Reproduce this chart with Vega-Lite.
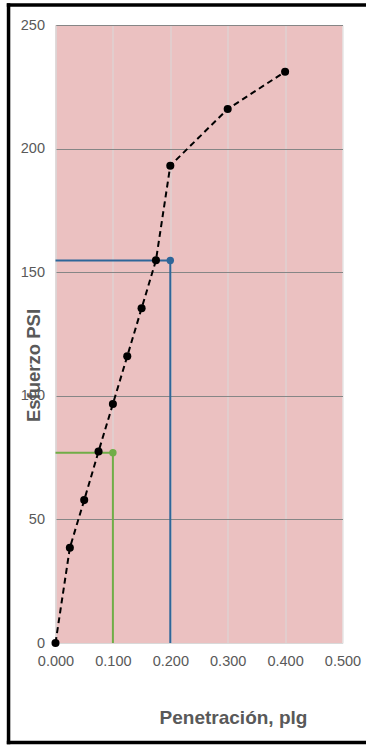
{
  "$schema": "https://vega.github.io/schema/vega-lite/v6.json",
  "width": 287,
  "height": 618,
  "autosize": {"type": "none"},
  "padding": {"left": 55.5, "top": 25, "right": 23.5, "bottom": 102},
  "background": "white",
  "config": {
    "font": "Liberation Sans",
    "view": {"fill": "#EBC1C1", "stroke": null}
  },
  "datasets": {
    "ensayo": [
      {"penetracion": 0.0, "esfuerzo": 0},
      {"penetracion": 0.025, "esfuerzo": 38.5},
      {"penetracion": 0.05, "esfuerzo": 57.8},
      {"penetracion": 0.075, "esfuerzo": 77.5},
      {"penetracion": 0.1, "esfuerzo": 96.7},
      {"penetracion": 0.125, "esfuerzo": 116},
      {"penetracion": 0.15, "esfuerzo": 135.4},
      {"penetracion": 0.175, "esfuerzo": 154.8},
      {"penetracion": 0.2, "esfuerzo": 193.1},
      {"penetracion": 0.3, "esfuerzo": 216},
      {"penetracion": 0.4, "esfuerzo": 231.1}
    ],
    "guias": [
      {"serie": "0.1 plg", "orden": 1, "penetracion": 0.0, "esfuerzo": 77},
      {"serie": "0.1 plg", "orden": 2, "penetracion": 0.1, "esfuerzo": 77},
      {"serie": "0.1 plg", "orden": 3, "penetracion": 0.1, "esfuerzo": 0},
      {"serie": "0.2 plg", "orden": 1, "penetracion": 0.0, "esfuerzo": 154.7},
      {"serie": "0.2 plg", "orden": 2, "penetracion": 0.2, "esfuerzo": 154.7},
      {"serie": "0.2 plg", "orden": 3, "penetracion": 0.2, "esfuerzo": 0}
    ]
  },
  "layer": [
    {
      "data": {"name": "guias"},
      "mark": {"type": "line", "strokeWidth": 2},
      "encoding": {
        "x": {
          "field": "penetracion",
          "type": "quantitative",
          "scale": {"domain": [0, 0.5], "nice": false, "zero": false},
          "axis": {
            "title": "Penetración, plg",
            "values": [0, 0.1, 0.2, 0.3, 0.4, 0.5],
            "format": ".3f",
            "ticks": false,
            "labelFlush": false,
            "labelPadding": 11,
            "labelFontSize": 14.5,
            "labelColor": "#595959",
            "domainColor": "#D9D9D9",
            "gridColor": "#D9D9D9",
            "gridWidth": 1,
            "titleFontSize": 19,
            "titleFontWeight": "bold",
            "titleColor": "#595959",
            "titleX": 177.5,
            "titleY": 74,
            "titleBaseline": "middle",
            "titleAlign": "center"
          }
        },
        "y": {
          "field": "esfuerzo",
          "type": "quantitative",
          "scale": {"domain": [0, 250], "nice": false, "zero": false},
          "axis": {
            "title": "Esfuerzo PSI",
            "values": [0, 50, 100, 150, 200, 250],
            "format": "d",
            "ticks": false,
            "labelFlush": false,
            "labelPadding": 11,
            "labelFontSize": 14.5,
            "labelColor": "#595959",
            "domainColor": "#D9D9D9",
            "gridColor": "#868686",
            "gridWidth": 1,
            "titleFontSize": 18.5,
            "titleFontWeight": "bold",
            "titleColor": "#595959",
            "titleAngle": -90,
            "titleX": -22.5,
            "titleY": 340,
            "titleBaseline": "middle",
            "titleAlign": "center"
          }
        },
        "order": {"field": "orden"},
        "color": {
          "field": "serie",
          "type": "nominal",
          "scale": {"domain": ["0.1 plg", "0.2 plg"], "range": ["#70AD47", "#2E6699"]},
          "legend": null
        }
      }
    },
    {
      "data": {"name": "guias"},
      "transform": [{"filter": "datum.orden === 2"}],
      "mark": {"type": "circle", "size": 55, "opacity": 1},
      "encoding": {
        "x": {"field": "penetracion", "type": "quantitative"},
        "y": {"field": "esfuerzo", "type": "quantitative"},
        "color": {
          "field": "serie",
          "type": "nominal",
          "scale": {"domain": ["0.1 plg", "0.2 plg"], "range": ["#70AD47", "#2E6699"]},
          "legend": null
        }
      }
    },
    {
      "data": {"name": "ensayo"},
      "mark": {"type": "line", "color": "black", "strokeWidth": 2, "strokeDash": [6, 4]},
      "encoding": {
        "x": {"field": "penetracion", "type": "quantitative"},
        "y": {"field": "esfuerzo", "type": "quantitative"}
      }
    },
    {
      "data": {"name": "ensayo"},
      "mark": {"type": "circle", "color": "black", "size": 65, "opacity": 1},
      "encoding": {
        "x": {"field": "penetracion", "type": "quantitative"},
        "y": {"field": "esfuerzo", "type": "quantitative"}
      }
    },
    {
      "data": {"values": [{"borde": "superior"}]},
      "mark": {"type": "rule", "color": "black", "strokeWidth": 3.5, "strokeCap": "square"},
      "encoding": {
        "x": {"datum": -0.0818, "type": "quantitative"},
        "x2": {"datum": 0.56},
        "y": {"datum": 258.1, "type": "quantitative"}
      }
    },
    {
      "data": {"values": [{"borde": "inferior"}]},
      "mark": {"type": "rule", "color": "black", "strokeWidth": 3.5, "strokeCap": "square"},
      "encoding": {
        "x": {"datum": -0.0818, "type": "quantitative"},
        "x2": {"datum": 0.56},
        "y": {"datum": -40.3, "type": "quantitative"}
      }
    },
    {
      "data": {"values": [{"borde": "izquierdo"}]},
      "mark": {"type": "rule", "color": "black", "strokeWidth": 3.5, "strokeCap": "square"},
      "encoding": {
        "x": {"datum": -0.0818, "type": "quantitative"},
        "y": {"datum": 258.1, "type": "quantitative"},
        "y2": {"datum": -40.3}
      }
    }
  ]
}
